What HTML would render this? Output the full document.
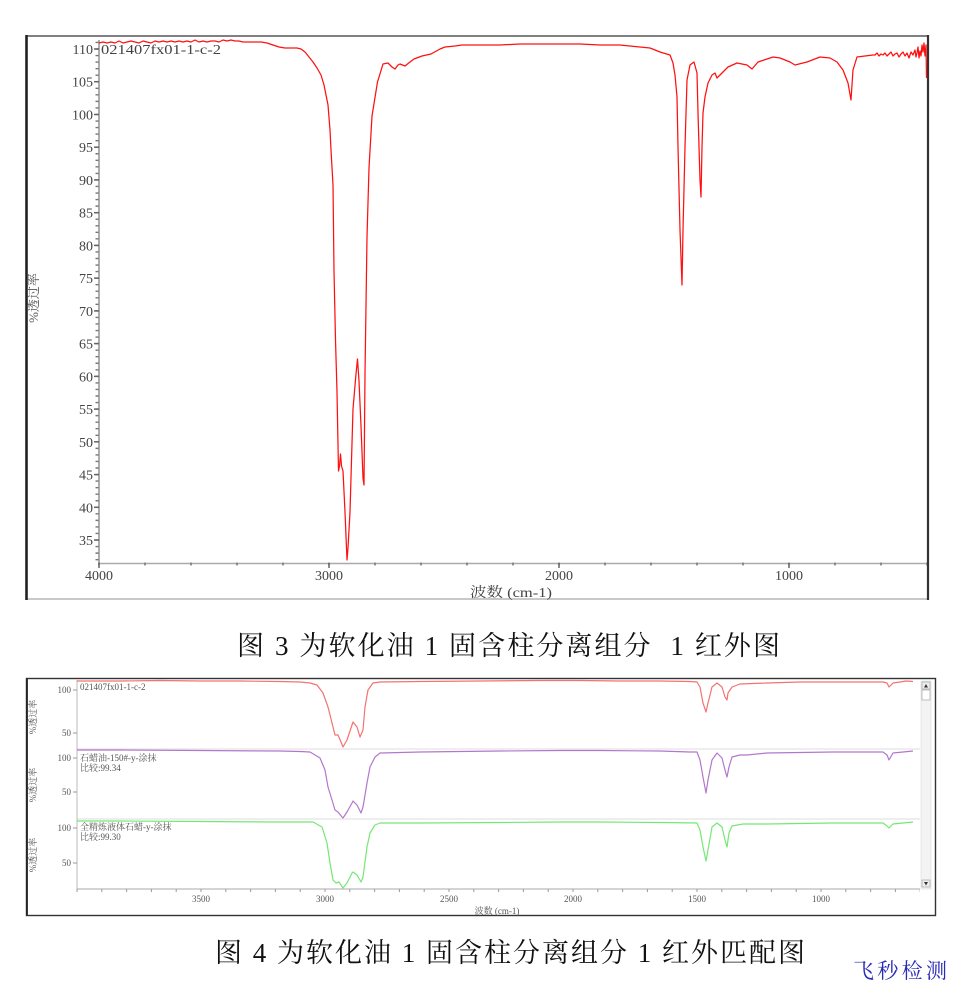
<!DOCTYPE html>
<html>
<head>
<meta charset="utf-8">
<style>
html,body{margin:0;padding:0;background:#fff;}
svg{display:block;}
.s{font-family:"Liberation Serif","Noto Serif CJK SC",serif;}
</style>
</head>
<body>
<svg width="963" height="1000" viewBox="0 0 963 1000" xmlns="http://www.w3.org/2000/svg">
<rect x="0" y="0" width="963" height="1000" fill="#fff"/>

<!-- ============ CHART 1 ============ -->
<!-- frame -->
<line x1="26" y1="36" x2="928" y2="36" stroke="#808080" stroke-width="2"/>
<line x1="26" y1="599" x2="928" y2="599" stroke="#c8c8c8" stroke-width="2"/>
<line x1="26.5" y1="35" x2="26.5" y2="600" stroke="#222" stroke-width="2.6"/>
<line x1="928" y1="35" x2="928" y2="600" stroke="#333" stroke-width="2.2"/>

<!-- axes -->
<line x1="99" y1="40" x2="99" y2="564" stroke="#999" stroke-width="1.6"/>
<line x1="98" y1="563.5" x2="927" y2="563.5" stroke="#aaa" stroke-width="1.6"/>
<!-- y minor ticks (every 1 unit) -->
<line x1="97" y1="41.75" x2="97" y2="563" stroke="#777" stroke-width="3" stroke-dasharray="1.4 5.147"/>
<!-- x minor ticks (every 200) -->
<line x1="98.25" y1="564" x2="927" y2="564" stroke="#777" stroke-width="3" stroke-dasharray="1.5 44.5"/>
<!-- y major ticks -->
<g stroke="#666" stroke-width="1.5">
<line x1="94" y1="49" x2="99" y2="49"/><line x1="94" y1="81.7" x2="99" y2="81.7"/>
<line x1="94" y1="114.5" x2="99" y2="114.5"/><line x1="94" y1="147.2" x2="99" y2="147.2"/>
<line x1="94" y1="179.9" x2="99" y2="179.9"/><line x1="94" y1="212.7" x2="99" y2="212.7"/>
<line x1="94" y1="245.4" x2="99" y2="245.4"/><line x1="94" y1="278.1" x2="99" y2="278.1"/>
<line x1="94" y1="310.9" x2="99" y2="310.9"/><line x1="94" y1="343.6" x2="99" y2="343.6"/>
<line x1="94" y1="376.4" x2="99" y2="376.4"/><line x1="94" y1="409.1" x2="99" y2="409.1"/>
<line x1="94" y1="441.8" x2="99" y2="441.8"/><line x1="94" y1="474.6" x2="99" y2="474.6"/>
<line x1="94" y1="507.3" x2="99" y2="507.3"/><line x1="94" y1="540" x2="99" y2="540"/>
<line x1="99" y1="563" x2="99" y2="568"/><line x1="329" y1="563" x2="329" y2="568"/>
<line x1="559" y1="563" x2="559" y2="568"/><line x1="789" y1="563" x2="789" y2="568"/>
</g>
<!-- y labels -->
<g class="s" font-size="14" fill="#444" text-anchor="end">
<text x="93" y="54">110</text><text x="93" y="86.7">105</text>
<text x="93" y="119.5">100</text><text x="93" y="152.2">95</text>
<text x="93" y="184.9">90</text><text x="93" y="217.7">85</text>
<text x="93" y="250.4">80</text><text x="93" y="283.1">75</text>
<text x="93" y="315.9">70</text><text x="93" y="348.6">65</text>
<text x="93" y="381.4">60</text><text x="93" y="414.1">55</text>
<text x="93" y="446.8">50</text><text x="93" y="479.6">45</text>
<text x="93" y="512.3">40</text><text x="93" y="545">35</text>
</g>
<!-- x labels -->
<g class="s" font-size="14" fill="#444" text-anchor="middle">
<text x="99" y="580">4000</text><text x="329" y="580">3000</text>
<text x="559" y="580">2000</text><text x="789" y="580">1000</text>
</g>
<text class="s" x="470" y="597" font-size="14" fill="#444" textLength="82" lengthAdjust="spacingAndGlyphs">波数 (cm-1)</text>
<text class="s" font-size="13" fill="#555" text-anchor="middle" transform="translate(38,298) rotate(-90)">%透过率</text>
<text class="s" x="101" y="54" font-size="14" fill="#444" textLength="120" lengthAdjust="spacingAndGlyphs">021407fx01-1-c-2</text>

<!-- spectrum 1 -->
<polyline fill="none" stroke="#ff1010" stroke-width="1.25" stroke-linejoin="round" points="
99,43 103,42 107,43 111,42 115,43 119,41 123,43 127,42 131,41 135,42 139,43 143,41 147,42 151,43 155,41 159,42 163,41 167,42 171,41 175,42 179,41 183,42 187,41 191,42 195,40 199,42 203,41 207,42 211,41 215,41 219,42 223,40 227,41 231,40 235,41 239,41 243,42 249,42 255,42 261,42 267,43 273,45 279,47 285,48 291,48 297,48 301,49 305,52 309,57 313,62 317,68 321,75 324,85 326,95 328,105 330,130 331,150 333,185 334,271 335.5,340 337,392 338.5,471 339.5,466 340.5,454 341.5,466 343,471 345,512 347,560 348,548 350,512 353,409 356,374 357.5,359 359,381 361,426 363,478 364,485 365,374 367,237 369,168 372,116 377.5,82 383,64 388,63 392,67 395,69 398,65 400,64 405,66 410,62 414,59 422,56 431,54 440,49 445,47 455,46 462,45 480,45 500,45 520,44 540,44 560,44 580,44 600,45 620,45 640,47 650,48 660,52 670,55 673,63 675,75 677,97 678,147 680,230 682,285 683,230 685,147 687,80 690,65 694,62 697,73 698,113 700,180 701,197 702,147 703,113 705,97 708,83 712,75 715,73 717,78 722,73 728,67 737,63 747,65 752,69 758,62 773,57 780,58 790,62 795,65 807,62 820,57 830,58 837,62 843,70 848,83 851,100 853,70 857,57 865,56 873,55 875,55 877,53 879,56 881,54 883,55 885,53 887,56 889,54 891,52 893,56 895,54 897,53 899,57 901,54 903,52 905,56 907,53 909,58 911,52 913,55 915,50 916,57 917,53 918,47 919,58 920,51 921,56 922,45 923,52 924,43 925,56 926,45 926.5,78"/>

<!-- caption 1 -->
<text class="s" x="237" y="655" font-size="27" fill="#111" textLength="543" lengthAdjust="spacing" style="white-space:pre">图 3 为软化油 1 固含柱分离组分  1 红外图</text>

<!-- ============ CHART 2 ============ -->
<rect x="26.5" y="678.5" width="909" height="237" fill="none" stroke="#333" stroke-width="1.4"/>
<line x1="27" y1="679" x2="27" y2="915" stroke="#222" stroke-width="1.8"/>

<!-- separators -->
<line x1="77" y1="749" x2="920" y2="749" stroke="#dcdcdc" stroke-width="1"/>
<line x1="77" y1="819" x2="920" y2="819" stroke="#dcdcdc" stroke-width="1"/>
<!-- axes -->
<line x1="77" y1="680" x2="77" y2="889" stroke="#bbb" stroke-width="1"/>
<line x1="77" y1="889" x2="920" y2="889" stroke="#aaa" stroke-width="1"/>
<line x1="76.5" y1="890.5" x2="920" y2="890.5" stroke="#999" stroke-width="3" stroke-dasharray="1 23.8"/>
<g stroke="#999" stroke-width="1">
<line x1="73" y1="690" x2="77" y2="690"/><line x1="73" y1="733" x2="77" y2="733"/>
<line x1="73" y1="758" x2="77" y2="758"/><line x1="73" y1="792" x2="77" y2="792"/>
<line x1="73" y1="828" x2="77" y2="828"/><line x1="73" y1="863" x2="77" y2="863"/>
</g>
<g class="s" font-size="9" fill="#555" text-anchor="end">
<text x="71" y="693">100</text><text x="71" y="736">50</text>
<text x="71" y="761">100</text><text x="71" y="795">50</text>
<text x="71" y="831">100</text><text x="71" y="866">50</text>
</g>
<g class="s" font-size="9" fill="#555" text-anchor="middle">
<text transform="translate(36,717) rotate(-90)">%透过率</text>
<text transform="translate(36,785) rotate(-90)">%透过率</text>
<text transform="translate(36,855) rotate(-90)">%透过率</text>
</g>
<g class="s" font-size="9" fill="#555" text-anchor="middle">
<text x="201" y="902">3500</text><text x="325" y="902">3000</text>
<text x="449" y="902">2500</text><text x="573" y="902">2000</text>
<text x="697" y="902">1500</text><text x="821" y="902">1000</text>
<text x="497" y="914">波数 (cm-1)</text>
</g>
<g class="s" font-size="9" fill="#555">
<text x="80" y="690">021407fx01-1-c-2</text>
<text x="80" y="761">石蜡油-150#-y-涂抹</text>
<text x="80" y="771">比较:99.34</text>
<text x="80" y="830">全精炼液体石蜡-y-涂抹</text>
<text x="80" y="840">比较:99.30</text>
</g>

<!-- scrollbar -->
<rect x="921" y="681" width="10" height="208" fill="#f3f3f3" stroke="#ddd" stroke-width="0.6"/>
<rect x="922" y="682" width="8" height="7" fill="#eee" stroke="#999" stroke-width="0.6"/>
<path d="M924 687.5 L926 684 L928 687.5 Z" fill="#333"/>
<rect x="922" y="690" width="8" height="10" fill="#fff" stroke="#999" stroke-width="0.6"/>
<rect x="922" y="880" width="8" height="7" fill="#eee" stroke="#999" stroke-width="0.6"/>
<path d="M924 882 L926 885.5 L928 882 Z" fill="#333"/>

<!-- spectra 2 -->
<polyline fill="none" stroke="#f47272" stroke-width="1.2" stroke-linejoin="round" points="
77,681 120,681 160,680.5 200,681 240,681 280,681.5 300,682 310,683 317,685 323,693 328,707 332,723 335,735 338,735 341,742 343,747 347,740 351,728 353,722 357,727 360,737 363,730 365,707 368,690 373,683 380,682 420,681.5 480,681 540,680.5 580,680.5 620,681 660,681 690,681.5 697,682 700,687 703,703 706,712 708,703 712,687 717,683 722,687 725,697 727,700 728,693 732,687 740,684 767,683 800,682 833,682 860,682 883,682 887,683 889,687 893,683 900,682 906,681 913,681.5"/>
<polyline fill="none" stroke="#b476cc" stroke-width="1.2" stroke-linejoin="round" points="
77,750 120,750 200,750.5 280,751 300,751.5 310,752 320,758 325,770 328,787 332,800 335,810 338,812 342,817 343,818 347,812 352,803 353,801 357,805 361,813 363,807 367,783 370,767 375,757 380,753 420,752 500,751 560,750.5 600,750.5 660,751 690,752 697,752 700,760 703,777 706,793 708,780 712,760 717,753 722,758 725,770 727,777 729,767 732,757 740,755 747,755 767,753 833,752 883,752 887,755 889,760 893,753 913,751"/>
<polyline fill="none" stroke="#74e874" stroke-width="1.2" stroke-linejoin="round" points="
77,821 120,821 200,821.5 280,822 313,822 322,827 327,843 330,863 333,880 336,883 339,882 343,888 347,883 352,873 353,872 357,875 361,882 363,877 367,847 370,833 375,825 380,823 420,823 500,822.5 560,822 600,822 660,822.5 697,823 700,830 703,847 706,861 708,850 712,827 717,823 722,827 725,840 727,847 729,833 732,826 743,824 767,824 833,823 883,823 887,826 889,828 893,824 913,822"/>

<!-- caption 2 -->
<text class="s" x="215" y="962" font-size="27" fill="#111" textLength="590" lengthAdjust="spacing" style="white-space:pre">图 4 为软化油 1 固含柱分离组分 1 红外匹配图</text>

<!-- watermark -->
<text class="s" x="853" y="978" font-size="21" fill="#2a2ab8" textLength="94" lengthAdjust="spacing">飞秒检测</text>
</svg>
</body>
</html>
